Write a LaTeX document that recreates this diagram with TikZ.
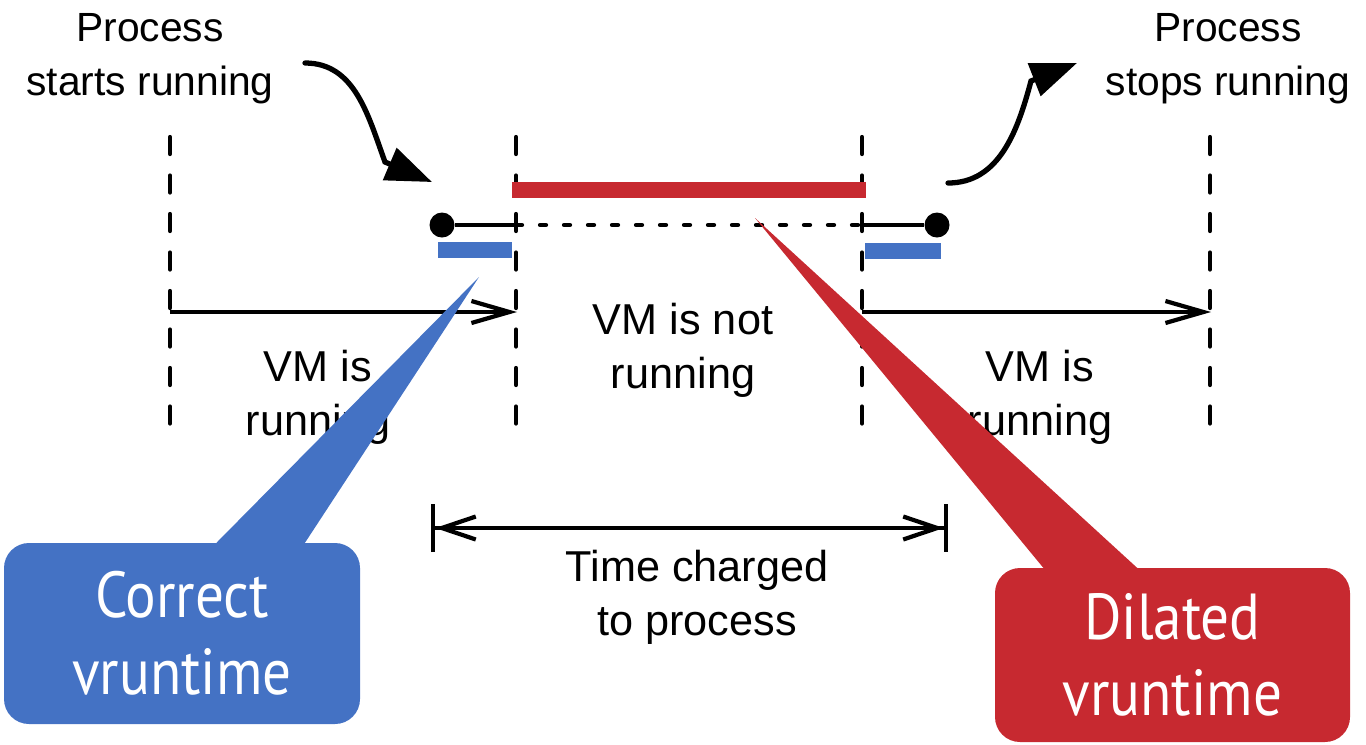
\documentclass[tikz,border=0pt]{standalone}
\usepackage{fontspec}
\setmainfont{Liberation Sans}
\newfontfamily\calloutfont[FakeStretch=0.88]{PT Sans}
\usetikzlibrary{arrows.meta,positioning}
\definecolor{vblue}{RGB}{68,114,196}
\definecolor{vred}{RGB}{199,41,48}
\tikzset{
  boundary/.style={
    line width=1.2pt,
    line cap=round,
    dash pattern=on 0.17cm off 0.215cm
  },
  span/.style={
    line width=1.2pt,
    -{Straight Barb[length=0.38cm,width=0.22cm]}
  },
  charge/.style={
    line width=1.2pt,
    {Bar[width=0.48cm,sep=0pt]Straight Barb[length=0.34cm,width=0.23cm]}-{Straight Barb[length=0.34cm,width=0.23cm,sep=0pt]Bar[width=0.48cm]}
  },
  proc/.style={
    line width=1.2pt
  },
  dotline/.style={
    line cap=round,
    dash pattern=on 0.06cm off 0.18cm
  },
  pdot/.style={
    shape=circle,
    fill=black,
    inner sep=0pt,
    minimum size=0.25cm
  },
  vbar/.style={
    line width=4.4pt
  },
  pointer/.style={
    line width=1.5pt,
    line cap=round,
    -{Triangle[length=0.46cm,width=0.34cm]}
  },
  lbl/.style={
    align=center,
    inner sep=0pt,
    font=\fontsize{12.3}{15.3}\selectfont
  },
  toplbl/.style={
    align=center,
    inner sep=0pt,
    font=\fontsize{11.6}{15.3}\selectfont
  },
  callout/.style={
    shape=rectangle,
    rounded corners=0.25cm,
    text=white,
    align=center,
    inner sep=0pt,
    font=\calloutfont\fontsize{18.5}{21.8}\selectfont
  }
}

\begin{document}
\begin{tikzpicture}
  \useasboundingbox (0,0) rectangle (13.66,-7.44);

  % where the VM runs and stops
  \coordinate (topA) at (1.70,-1.37);  \coordinate (botA) at (1.70,-4.28);
  \coordinate (topB) at (5.16,-1.37);  \coordinate (botB) at (5.16,-4.28);
  \coordinate (topC) at (8.62,-1.37);  \coordinate (botC) at (8.62,-4.28);
  \coordinate (topD) at (12.10,-1.37); \coordinate (botD) at (12.10,-4.28);
  \draw[boundary] (topA) -- (botA);
  \draw[boundary] (topB) -- (botB);
  \draw[boundary] (topC) -- (botC);
  \draw[boundary] (topD) -- (botD);

  \coordinate (spanA) at (1.70,-3.12);
  \coordinate (spanB) at (5.17,-3.12);
  \coordinate (spanC) at (8.62,-3.12);
  \coordinate (spanD) at (12.11,-3.12);
  \draw[span] (spanA) -- (spanB);
  \draw[span] (spanC) -- (spanD);

  % vruntime bars
  \coordinate (redL) at (5.12,-1.90);  \coordinate (redR) at (8.66,-1.90);
  \draw[vbar, vred] (redL) -- (redR);
  \coordinate (blueAL) at (4.38,-2.50); \coordinate (blueAR) at (5.12,-2.50);
  \coordinate (blueBL) at (8.65,-2.51); \coordinate (blueBR) at (9.41,-2.51);
  \draw[vbar, vblue] (blueAL) -- (blueAR);
  \draw[vbar, vblue] (blueBL) -- (blueBR);

  % process line
  \node[pdot] (dotL) at (4.42,-2.25) {};
  \node[pdot] (dotR) at (9.37,-2.25) {};
  \coordinate (crossL) at (5.16,-2.25);
  \coordinate (crossR) at (8.62,-2.25);
  \draw[proc] (dotL) -- (crossL);
  \draw[proc, dotline] (crossL) -- (crossR);
  \draw[proc] (crossR) -- (dotR);

  \coordinate (chargeL) at (4.31,-5.28);
  \coordinate (chargeR) at (9.48,-5.28);
  \draw[charge] (chargeL) -- (chargeR);

  % labels
  \node[toplbl] (start) at (1.50,-0.59) {Process\\starts running};
  \node[toplbl] (stop) at (12.28,-0.59) {Process\\stops running};
  \node[lbl] (runA) at (3.18,-3.97) {VM is\\running};
  \node[lbl] (halt) at (6.83,-3.50) {VM is not\\running};
  \node[lbl] (runB) at (10.40,-3.97) {VM is\\running};
  \node[lbl] (charged) at (6.97,-5.97) {Time charged\\to process};

  \coordinate (startFrom) at (3.05,-0.63);
  \coordinate (startBend) at (3.85,-1.62);
  \coordinate (startTip) at (4.32,-1.82);
  \draw[pointer] (startFrom) to[out=0,in=110] (startBend) -- (startTip);
  \coordinate (stopFrom) at (9.48,-1.83);
  \coordinate (stopBend) at (10.31,-0.81);
  \coordinate (stopTip) at (10.77,-0.63);
  \draw[pointer] (stopFrom) to[out=0,in=-105] (stopBend) -- (stopTip);

  % callouts
  \node[callout, fill=vblue, minimum width=3.56cm, minimum height=1.81cm] (correct) at (1.82,-6.335) {Correct\\vruntime};
  \coordinate (correctTip) at (4.79,-2.77);
  \fill[vblue] ([xshift=0.30cm,yshift=-0.05cm]correct.north) -- (correctTip) -- ([xshift=1.20cm,yshift=-0.05cm]correct.north) -- cycle;
  \node[callout, fill=vred, minimum width=3.55cm, minimum height=1.74cm] (dilated) at (11.725,-6.55) {Dilated\\vruntime};
  \coordinate (dilatedTip) at (7.55,-2.18);
  \fill[vred] ([xshift=-1.255cm,yshift=-0.05cm]dilated.north) -- (dilatedTip) -- ([xshift=-0.305cm,yshift=-0.05cm]dilated.north) -- cycle;
\end{tikzpicture}
\end{document}
